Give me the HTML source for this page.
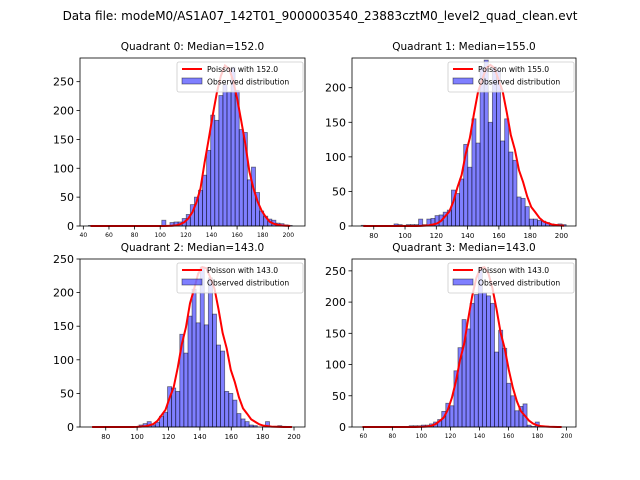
<!DOCTYPE html>
<html><head><meta charset="utf-8"><style>
html,body{margin:0;padding:0;background:#fff}
svg{display:block;font-family:"DejaVu Sans","Liberation Sans",sans-serif}
</style></head><body>
<svg id="fig" width="640" height="480" viewBox="0 0 640 480">
<text x="320" y="20" text-anchor="middle" font-size="12">Data file: modeM0/AS1A07_142T01_9000003540_23883cztM0_level2_quad_clean.evt</text>
</svg>
<script>
// Quadrant 0
const q0Counts=[1,0,0,0,0,0,0,0,0,0,0,0,0,0,0,0,0,0,10,0,6,7,7,13,20,37,50,62,88,131,192,183,226,245,232,275,235,167,162,80,102,58,26,17,12,10,5,4,2,1];
const q0Range=[44,203];
const q0XTicks=[40,60,80,100,120,140,160,180,200];
const q0YTicks=[0,50,100,150,200,250];
const q0Lambda=152.0, q0Peak=278;
// Quadrant 1
const q1Counts=[1,0,0,0,0,0,0,0,3,2,1,2,2,2,10,2,10,11,15,16,20,23,52,47,68,118,85,155,120,230,240,150,230,225,123,155,107,95,42,40,28,10,10,8,7,5,3,2,3,2];
const q1Range=[72,203];
const q1XTicks=[80,100,120,140,160,180,200];
const q1YTicks=[0,50,100,150,200];
const q1Lambda=155.0, q1Peak=233;
// Quadrant 2
const q2Counts=[0,0,0,0,0,0,0,0,0,0,0,0,3,5,8,3,7,16,22,60,58,53,138,110,165,205,155,238,152,222,168,122,113,53,50,40,20,12,8,3,2,0,0,8,0,1,2,1,0,0];
const q2Range=[70,200];
const q2XTicks=[80,100,120,140,160,180,200];
const q2YTicks=[0,50,100,150,200,250];
const q2Lambda=143.0, q2Peak=238;
// Quadrant 3
const q3Counts=[0,0,0,0,0,0,0,0,0,0,0,0,2,2,2,3,3,5,8,12,25,38,34,90,127,172,157,198,212,255,215,210,198,120,155,126,70,50,26,33,37,3,1,8,0,0,0,0,0,0];
const q3Range=[58,198];
const q3XTicks=[60,80,100,120,140,160,180,200];
const q3YTicks=[0,50,100,150,200,250];
const q3Lambda=143.0, q3Peak=256;

const NS="http://www.w3.org/2000/svg";
const fig=document.getElementById('fig');
function mk(tag,attrs,parent){const e=document.createElementNS(NS,tag);for(const k in attrs)e.setAttribute(k,attrs[k]);(parent||fig).appendChild(e);return e;}
function lnFact(n){let s=0;for(let i=2;i<=n;i++)s+=Math.log(i);return s;}
function poisLog(k,l){const kk=Math.round(k);return kk*Math.log(l)-l-lnFact(kk);}

const panels=[
 {counts:q0Counts,range:q0Range,xt:q0XTicks,yt:q0YTicks,lam:q0Lambda,peak:q0Peak,box:[80,58,305,226],xlim:[37.4,213],ylim:291,title:"Quadrant 0: Median=152.0",xfs:6,yfs:11},
 {counts:q1Counts,range:q1Range,xt:q1XTicks,yt:q1YTicks,lam:q1Lambda,peak:q1Peak,box:[352,58,576,226],xlim:[66.1,209.3],ylim:243,title:"Quadrant 1: Median=155.0",xfs:7,yfs:11},
 {counts:q2Counts,range:q2Range,xt:q2XTicks,yt:q2YTicks,lam:q2Lambda,peak:q2Peak,box:[80,259,305,427],xlim:[63.6,207],ylim:250,title:"Quadrant 2: Median=143.0",xfs:7,yfs:11},
 {counts:q3Counts,range:q3Range,xt:q3XTicks,yt:q3YTicks,lam:q3Lambda,peak:q3Peak,box:[352,259,576,427],xlim:[52.2,206.5],ylim:269,title:"Quadrant 3: Median=143.0",xfs:6,yfs:11}
];
panels.forEach((p,pi)=>{
 const [L,T,R,B]=p.box;
 const g=mk('g',{});
 
 
 const xs=v=>L+(v-p.xlim[0])/(p.xlim[1]-p.xlim[0])*(R-L);
 const ys=v=>B-v/p.ylim*(B-T);
 const n=p.counts.length,w=(p.range[1]-p.range[0])/n;
 p.counts.forEach((c,i)=>{
  if(c<=0)return;
  const x0=xs(p.range[0]+i*w),x1=xs(p.range[0]+(i+1)*w);
  const r=mk('rect',{x:x0,y:ys(c),width:x1-x0,height:ys(0)-ys(c),fill:'rgba(0,0,255,0.5)',stroke:'rgba(0,0,0,0.5)','stroke-width':0.8},g);
  
  
 });
 const pts=[];let mx=-1e9;const lv=[];
 for(let i=0;i<n;i++){const k=p.range[0]+(i+0.5)*w;const v=poisLog(k,p.lam);lv.push([k,v]);if(v>mx)mx=v;}
 lv.forEach(([k,v])=>pts.push(xs(k).toFixed(2)+','+ys(p.peak*Math.exp(v-mx)).toFixed(2)));
 const pl=mk('polyline',{points:pts.join(' '),fill:'none',stroke:'#ff0000','stroke-width':2},g);
 
 
 const fr=mk('rect',{x:L,y:T,width:R-L,height:B-T,fill:'none',stroke:'#000','stroke-width':0.8},g);
 
 
 p.xt.forEach(t=>{const x=xs(t);mk('line',{x1:x,x2:x,y1:B,y2:B+3.5,stroke:'#000','stroke-width':0.8},g);
  const tx=mk('text',{x:x,y:B+5+p.xfs,'text-anchor':'middle','font-size':p.xfs},g);tx.textContent=t;
  
  });
 p.yt.forEach(t=>{const y=ys(t);mk('line',{x1:L-3.5,x2:L,y1:y,y2:y,stroke:'#000','stroke-width':0.8},g);
  const tx=mk('text',{x:L-6,y:y+4,'text-anchor':'end','font-size':p.yfs},g);tx.textContent=t;
  
  });
 const ti=mk('text',{x:(L+R)/2,y:T-8,'text-anchor':'middle','font-size':10.5},g);ti.textContent=p.title;
 
 
 const lg=mk('g',{},g);
 
 
 mk('rect',{x:R-128,y:T+4,width:126,height:30,fill:'rgba(255,255,255,0.8)',stroke:'#ccc','stroke-width':0.8,rx:2},lg);
 mk('line',{x1:R-123,x2:R-103,y1:T+11,y2:T+11,stroke:'#ff0000','stroke-width':2},lg);
 const t1=mk('text',{x:R-98,y:T+13.8,'font-size':7.6},lg);t1.textContent='Poisson with '+p.lam.toFixed(1);
 
 
 mk('rect',{x:R-123,y:T+20,width:20,height:6,fill:'rgba(0,0,255,0.5)',stroke:'rgba(0,0,0,0.5)','stroke-width':0.8},lg);
 const t2=mk('text',{x:R-98,y:T+26.3,'font-size':7.6},lg);t2.textContent='Observed distribution';
 
 
});
</script>
</body></html>
